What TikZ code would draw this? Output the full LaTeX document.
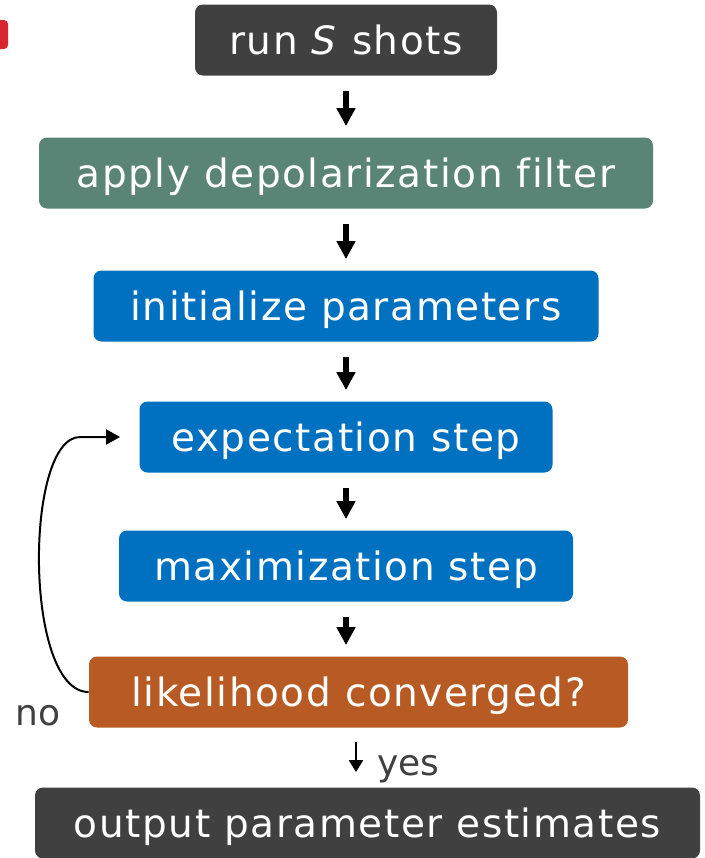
\documentclass[tikz,border=0pt]{standalone}
\usepackage{fontspec}
\setmainfont{DejaVu Sans}[LetterSpace=4,Ligatures=NoCommon]
\newfontfamily\labelfont{DejaVu Sans}
\usepackage{tikz}
\usetikzlibrary{arrows.meta,calc,positioning}
\definecolor{slate}{HTML}{404040}
\definecolor{filtgreen}{HTML}{5A8476}
\definecolor{stepblue}{HTML}{0070C0}
\definecolor{checkorange}{HTML}{B85A24}
\definecolor{titlered}{HTML}{D7262E}

\begin{document}
\begin{tikzpicture}[x=0.5pt,y=-0.5pt,
      every node/.style={font=\fontsize{19.5}{23}\selectfont},
      box/.style={rounded corners=4pt,text=white,minimum height=35.5pt,
        inner xsep=4pt,text height=16pt,text depth=2pt},
      flow/.style={line width=3pt,-{Triangle[width=9pt,length=9pt]},
        shorten <=7.5pt,shorten >=5.5pt},
      thin flow/.style={line width=1pt,-{Triangle[width=7.5pt,length=7pt]}},
      side label/.style={text=slate,inner sep=0pt,anchor=base west,
        font=\labelfont\fontsize{18}{22}\selectfont}]
    \useasboundingbox (0,0) rectangle (705,858);
    \fill[titlered,rounded corners=2pt] (-30,20) rectangle (8,49);

    \node[box,fill=slate,minimum width=151pt] (run) at (346,40) {run \textit{S} shots};
    \node[box,fill=filtgreen,minimum width=307pt] (filt) at (346,173) {apply depolarization filter};
    \node[box,fill=stepblue,minimum width=252.5pt] (init) at (346,306) {initialize parameters};
    \node[box,fill=stepblue,minimum width=206.5pt] (expe) at (346,437) {expectation step};
    \node[box,fill=stepblue,minimum width=227pt] (maxi) at (346,566) {maximization step};
    \node[box,fill=checkorange,minimum width=269.5pt] (like) at (358.5,692) {likelihood converged?};
    \node[box,fill=slate,minimum width=332.5pt] (outp) at (367.5,823) {output parameter estimates};

    \draw[flow] (run) -- (filt);
    \draw[flow] (filt) -- (init);
    \draw[flow] (init) -- (expe);
    \draw[flow] (expe) -- (maxi);
    \draw[flow] (maxi.south) -- (maxi.south |- like.north);

    \draw[thin flow,-{Triangle[width=7pt,length=6pt]},shorten <=7pt,shorten >=7.5pt]
      ([xshift=-1.25pt]like.south) -- ([xshift=-1.25pt]like.south |- outp.north);
    \node[side label] (yes) at (377,775) {yes};

    \coordinate[left=29.5pt of expe.west] (loopin);
    \draw[thin flow,shorten >=9.5pt] (like.west) .. controls +(-65,0) and +(-56,0) .. (loopin) -- (expe.west);
    \node[side label] (no) at (15,725) {no};
  \end{tikzpicture}
\end{document}
